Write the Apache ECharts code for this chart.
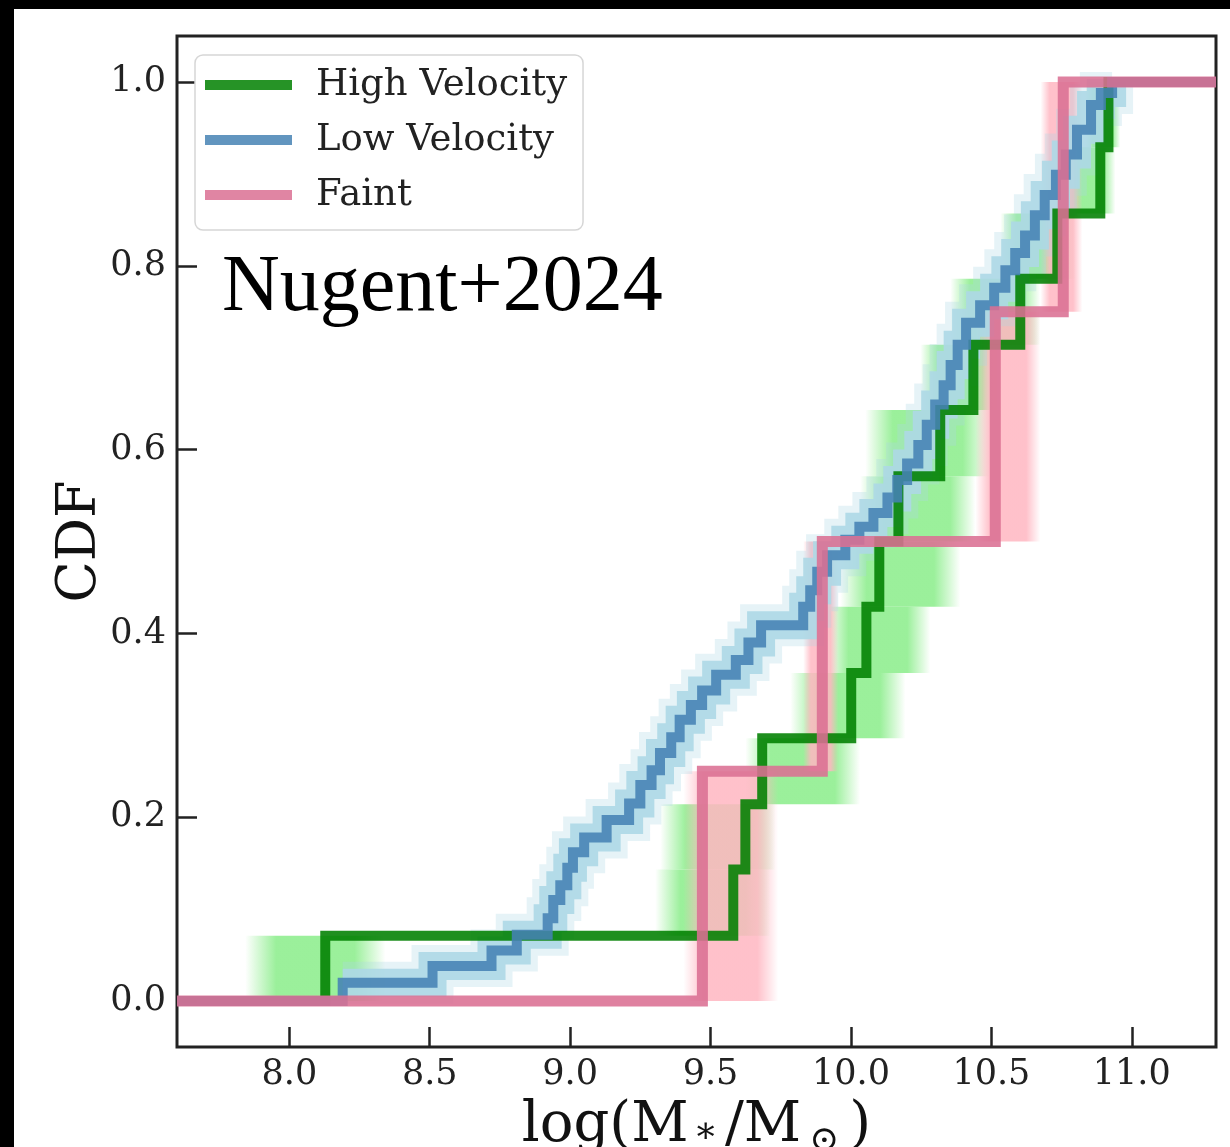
<!DOCTYPE html>
<html>
<head>
<meta charset="utf-8">
<script src="https://cdn.jsdelivr.net/npm/echarts@6/dist/echarts.min.js"></script>
<style>
  html, body { margin:0; padding:0; background:#000; width:1230px; height:1147px; overflow:hidden; }
  #chart { position:absolute; left:14px; top:9px; width:1216px; height:1138px; background:#fff; }
</style>
</head>
<body>
<div id="chart"></div>
<script>
// ---- data ----
const xTicks = [8.0, 8.5, 9.0, 9.5, 10.0, 10.5, 11.0];
const yTicks = [0.0, 0.2, 0.4, 0.6, 0.8, 1.0];
const xRange = [7.6, 11.3];
const yRange = [-0.05, 1.05];

// High Velocity: sorted masses and CDF levels
const highX = [8.128, 9.581, 9.624, 9.684, 10.001, 10.055, 10.101, 10.169, 10.318, 10.436, 10.603, 10.735, 10.888, 10.917];
const highY = [0.071, 0.143, 0.214, 0.286, 0.357, 0.429, 0.500, 0.571, 0.643, 0.714, 0.786, 0.857, 0.929, 1.000];
// bootstrap range (x low / x high) of each High Velocity step
const highBandLo = [7.843, 9.303, 9.321, 9.624, 9.784, 9.909, 9.962, 10.033, 10.051, 10.247, 10.354, 10.532, 10.746, 10.835];
const highBandHi = [8.342, 9.713, 9.731, 10.033, 10.194, 10.283, 10.390, 10.443, 10.496, 10.532, 10.674, 10.799, 10.942, 10.959];

// Low Velocity
const lowX = [8.19, 8.51, 8.72, 8.81, 8.92, 8.94, 8.965, 8.99, 9.01, 9.05, 9.13, 9.21, 9.25, 9.29, 9.32, 9.36, 9.39, 9.43, 9.47, 9.52, 9.59, 9.635, 9.68, 9.83, 9.855, 9.88, 9.915, 9.98, 10.03, 10.08, 10.13, 10.165, 10.20, 10.24, 10.27, 10.30, 10.33, 10.355, 10.38, 10.41, 10.46, 10.51, 10.55, 10.585, 10.62, 10.655, 10.69, 10.73, 10.765, 10.805, 10.855, 10.89, 10.93];
const lowY = [0.02, 0.038, 0.055, 0.072, 0.09, 0.11, 0.126, 0.145, 0.162, 0.178, 0.197, 0.215, 0.235, 0.251, 0.27, 0.287, 0.306, 0.322, 0.338, 0.355, 0.371, 0.39, 0.409, 0.429, 0.447, 0.467, 0.485, 0.502, 0.516, 0.531, 0.548, 0.567, 0.585, 0.605, 0.627, 0.649, 0.67, 0.692, 0.714, 0.738, 0.757, 0.776, 0.795, 0.814, 0.833, 0.855, 0.877, 0.899, 0.921, 0.948, 0.975, 0.988, 1.0];

// Faint
const faintX = [9.471, 9.898, 10.514, 10.756];
const faintY = [0.25, 0.50, 0.75, 1.00];
const faintBandLo = [9.403, 9.830, 10.443, 10.675];
const faintBandHi = [9.741, 9.955, 10.675, 10.824];

const names = ['High Velocity', 'Low Velocity', 'Faint'];
const annotation = 'Nugent+2024';

// ---- build ----
function stepData(xs, ys) {
  const d = [[xRange[0], 0]];
  xs.forEach((x, i) => d.push([x, ys[i]]));
  d.push([xRange[1], ys[ys.length - 1]]);
  return d;
}
function bandData(lo, hi, ys) {
  return lo.map((l, i) => [l, hi[i], i === 0 ? 0 : ys[i - 1], ys[i]]);
}
function fade(rgb, a) {
  return {
    type: 'linear', x: 0, y: 0, x2: 1, y2: 0,
    colorStops: [
      { offset: 0, color: 'rgba(' + rgb + ',0)' },
      { offset: 0.22, color: 'rgba(' + rgb + ',' + a + ')' },
      { offset: 0.78, color: 'rgba(' + rgb + ',' + a + ')' },
      { offset: 1, color: 'rgba(' + rgb + ',0)' }
    ]
  };
}
function bandSeries(id, data, rgb, a) {
  return {
    type: 'custom', id: id, silent: true, z: 1, clip: true,
    data: data, encode: { x: [0, 1], y: [2, 3] },
    renderItem: function (params, api) {
      const p0 = api.coord([api.value(0), api.value(3)]);
      const p1 = api.coord([api.value(1), api.value(2)]);
      return { type: 'rect', shape: { x: p0[0], y: p0[1], width: p1[0] - p0[0], height: p1[1] - p0[1] },
               style: { fill: fade(rgb, a) } };
    }
  };
}
const lowBandData = lowX.map((x, i) => [x, lowY[i]]);

const serif = 'DejaVu Serif';
const colGreen = '#008000', colBlue = '#4682b4', colPink = '#db7093';

const chart = echarts.init(document.getElementById('chart'), null, { renderer: 'canvas' });
chart.setOption({
  animation: false,
  backgroundColor: '#fff',
  grid: { left: 163, right: 14, top: 27, bottom: 100, outerBoundsMode: 'none', containLabel: false,
          show: true, borderColor: '#222', borderWidth: 3, backgroundColor: 'transparent' },
  xAxis: {
    type: 'value', min: xRange[0], max: xRange[1],
    axisLine: { show: false, onZero: false },
    axisTick: { show: true, inside: true, length: 20, customValues: xTicks, lineStyle: { color: '#222', width: 2.5 } },
    axisLabel: { customValues: xTicks, formatter: v => v.toFixed(1), fontFamily: serif, fontSize: 35, color: '#222', margin: 10 },
    splitLine: { show: false },
    name: '{a|log(M}{s|∗}{a|/M}{o|⊙}{a|)}',
    nameLocation: 'middle', nameGap: 48, nameMoveOverlap: false,
    nameTextStyle: {
      rich: {
        a: { fontFamily: serif, fontSize: 56, color: '#111', lineHeight: 62 },
        s: { fontFamily: serif, fontSize: 36, color: '#111', lineHeight: 62, padding: [14, 7, 0, 5] },
        o: { fontFamily: serif, fontSize: 36, color: '#111', lineHeight: 62, padding: [32, 10, 0, 8] }
      }
    }
  },
  yAxis: {
    type: 'value', min: yRange[0], max: yRange[1],
    axisLine: { show: false, onZero: false },
    axisTick: { show: true, inside: true, length: 20, customValues: yTicks, lineStyle: { color: '#222', width: 2.5 } },
    axisLabel: { customValues: yTicks, formatter: v => v.toFixed(1), fontFamily: serif, fontSize: 35, color: '#222', margin: 11 },
    splitLine: { show: false },
    name: 'CDF', nameLocation: 'middle', nameRotate: 90, nameGap: 69, nameMoveOverlap: false,
    nameTextStyle: { fontFamily: serif, fontSize: 54, color: '#111' }
  },
  legend: {
    left: 181, top: 46, orient: 'vertical',
    data: [
      { name: names[0], itemStyle: { color: colGreen, opacity: 0.85 } },
      { name: names[1], itemStyle: { color: colBlue, opacity: 0.85 } },
      { name: names[2], itemStyle: { color: colPink, opacity: 0.85 } }
    ],
    icon: 'rect', itemWidth: 87, itemHeight: 10, itemGap: 15,
    padding: [10, 16, 15, 10],
    backgroundColor: '#fff', borderColor: '#d6d6d6', borderWidth: 1.5, borderRadius: 8,
    textStyle: { fontFamily: serif, fontSize: 37, color: '#222', lineHeight: 40, padding: [0, 0, 0, 19] },
    selectedMode: false
  },
  graphic: [
    { type: 'text', left: 208, top: 240, z: 100,
      style: { text: annotation, fontFamily: 'Liberation Serif', fontSize: 80, fill: '#000' } }
  ],
  series: [
    bandSeries('highBand', bandData(highBandLo, highBandHi, highY), '144,238,144', 0.9),
    bandSeries('faintBand', bandData(faintBandLo, faintBandHi, faintY), '255,182,193', 0.85),
    { type: 'line', id: 'lowBandOuter', step: 'end', data: lowBandData, showSymbol: false, silent: true, z: 2,
      lineStyle: { color: '#add8e6', width: 42, opacity: 0.3, join: 'miter' } },
    { type: 'line', id: 'lowBand', step: 'end', data: lowBandData, showSymbol: false, silent: true, z: 2,
      lineStyle: { color: '#add8e6', width: 28, opacity: 0.9, join: 'miter' } },
    { type: 'line', name: names[0], step: 'end', data: stepData(highX, highY), showSymbol: false, z: 3,
      itemStyle: { color: colGreen }, lineStyle: { color: colGreen, width: 10, opacity: 0.88, join: 'miter' } },
    { type: 'line', name: names[1], step: 'end', data: stepData(lowX, lowY), showSymbol: false, z: 4,
      itemStyle: { color: colBlue }, lineStyle: { color: colBlue, width: 10, opacity: 0.88, join: 'miter' } },
    { type: 'line', name: names[2], step: 'end', data: stepData(faintX, faintY), showSymbol: false, z: 5,
      itemStyle: { color: colPink }, lineStyle: { color: colPink, width: 11, opacity: 0.88, join: 'miter' } }
  ]
});
</script>
</body>
</html>
